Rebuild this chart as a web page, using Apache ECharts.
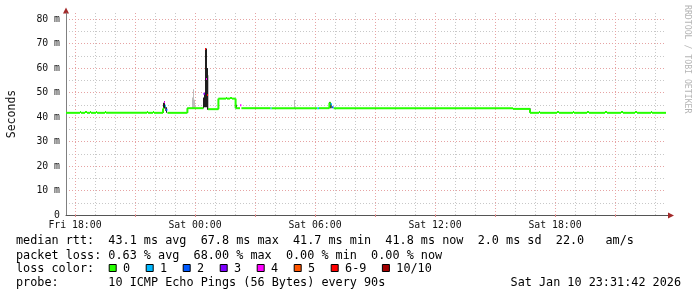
<!DOCTYPE html>
<html><head><meta charset="utf-8">
<script src="https://cdn.jsdelivr.net/npm/echarts@6/dist/echarts.min.js"></script>
<style>html,body{margin:0;padding:0;background:#fff}#c{width:697px;height:297px}</style>
</head><body><div id="c"></div>
<script>
// ---- axis ticks (hours since Fri 00:00) ----
const xMin = 17.55, xMax = 47.55;
const xTickValues = [18, 24, 30, 36, 42];
const xTickLabels = ['Fri 18:00', 'Sat 00:00', 'Sat 06:00', 'Sat 12:00', 'Sat 18:00'];
const xMajorGrid = [18, 21, 24, 27, 30, 33, 36, 39, 42, 45];
const xMinorGrid = [19, 20, 22, 23, 25, 26, 28, 29, 31, 32, 34, 35, 37, 38, 40, 41, 43, 44, 46, 47];
const yTickValues = [0, 10, 20, 30, 40, 50, 60, 70, 80];
const yTickLabels = ['0', '10 m', '20 m', '30 m', '40 m', '50 m', '60 m', '70 m', '80 m'];
const yMinorGrid = [5, 15, 25, 35, 45, 55, 65, 75];

// ---- median rtt (ms): segment start times, values, loss level ----
const medianT = [17.55, 18.25, 18.30, 18.50, 18.60, 18.75, 18.80, 19.05, 19.10, 19.50, 19.55, 21.60, 21.65, 21.90, 21.95,
  22.40, 22.45, 22.50, 22.55, 22.62, 23.62, 24.42, 24.50, 24.55, 24.60, 24.65, 25.17, 25.55, 25.60, 25.75, 25.85,
  26.03, 26.25, 26.32, 27.78, 27.83, 30.12, 30.20, 30.72, 30.78, 30.85, 30.93, 39.90, 40.75,
  41.20, 41.25, 42.10, 42.20, 42.90, 42.95, 43.60, 43.70, 44.50, 44.60, 45.30, 45.40, 46.00, 46.10, 46.80, 46.85, 47.55];
const medianV = [41.7, 42.0, 41.7, 42.0, 41.7, 42.0, 41.7, 42.0, 41.7, 42.0, 41.7, 42.0, 41.7, 42.0, 41.7,
  43.5, 46.0, 44.5, 43.0, 41.7, 43.6, 49.5, 67.8, 55.5, 49.0, 43.2, 47.5, 47.8, 47.5, 47.8, 47.5,
  43.6, 44.8, 43.6, 43.6, 43.6, 43.6, 43.6, 45.8, 45.2, 44.0, 43.6, 43.3, 41.7,
  42.0, 41.7, 42.0, 41.7, 42.0, 41.7, 42.0, 41.7, 42.0, 41.7, 42.0, 41.7, 42.0, 41.7, 42.0, 41.7];
const medianLoss = [0, 0, 0, 0, 0, 0, 0, 0, 0, 0, 0, 0, 0, 0, 0,
  0, 4, 1, 2, 0, 0, 3, 6, 4, 6, 0, 0, 0, 0, 0, 0,
  0, 4, 0, 1, 0, 1, 0, 0, 1, 2, 0, 0, 0,
  0, 0, 0, 0, 0, 0, 0, 0, 0, 0, 0, 0, 0, 0, 0, 0];

// ---- smoke (ping spread) ----
const smokeT  = [22.40, 22.45, 22.50, 22.55, 23.60, 23.85, 23.90, 23.95, 24.40, 24.45, 24.50, 24.55, 24.60, 24.65, 25.15, 26.00, 26.05, 28.95, 30.70, 30.75, 30.80, 40.73];
const smokeLo = [41.7, 43.5, 42.5, 41.7, 41.7, 43.6, 43.6, 43.6, 43.6, 44.0, 44.0, 44.0, 43.0, 43.0, 43.2, 43.6, 43.6, 43.6, 43.6, 43.6, 43.6, 41.7];
const smokeHi = [45.8, 46.5, 45.0, 44.0, 43.8, 48.0, 51.3, 47.0, 48.0, 49.8, 68.0, 68.0, 60.0, 57.0, 47.5, 47.5, 45.0, 46.9, 46.1, 46.0, 45.0, 43.6];
const smokeShade = [0, 0, 1, 0, 0, 2, 2, 2, 0, 0, 0, 0, 0, 2, 0, 0, 0, 2, 0, 0, 1, 0];

// ---- legend / stats text ----
const lossLegend = ['0', '1', '2', '3', '4', '5', '6-9', '10/10'];
const rttLine = 'median rtt:  43.1 ms avg  67.8 ms max  41.7 ms min  41.8 ms now  2.0 ms sd  22.0   am/s';
const lossLine = 'packet loss: 0.63 % avg  68.00 % max  0.00 % min  0.00 % now';
const lossLabel = 'loss color:';
const probeLine = 'probe:       10 ICMP Echo Pings (56 Bytes) every 90s';
const stampText = 'Sat Jan 10 23:31:42 2026';

// ---- styles ----
const lossColors = ['#26ff00', '#00b8ff', '#0059ff', '#7e00ff', '#ff00ff', '#ff5500', '#ff0000', '#a10000'];
const smokeColors = ['#1e1e1e', '#606060', '#bdbdbd'];
const MONO = '"DejaVu Sans Mono", monospace';
const step = 0.05;

const chart = echarts.init(document.getElementById('c'), null, {renderer: 'canvas'});

const medianData = medianV.map((v, i) => [medianT[i], medianT[i + 1], v, medianLoss[i]]);
const smokeData = smokeT.map((t, i) => [t, smokeLo[i], smokeHi[i], smokeShade[i]]);

const txt = (s, x, y, align) => ({
  type: 'text', x: x, y: y, silent: true,
  style: {text: s, font: '11.8px ' + MONO, fill: '#000', align: align || 'left', verticalAlign: 'middle'}
});

const graphics = [];
graphics.push(txt(rttLine, 16, 241));
graphics.push(txt(lossLine, 16, 255.5));
graphics.push(txt(lossLabel, 16, 268.5));
const boxX = [108.7, 145.7, 182.7, 219.7, 256.7, 293.7, 330.7, 381.9];
lossLegend.forEach((s, i) => {
  graphics.push({type: 'rect', silent: true, shape: {x: boxX[i] + 0.5, y: 264.5, width: 7, height: 7},
    style: {fill: lossColors[i], stroke: '#000', lineWidth: 1}});
  graphics.push(txt(s, boxX[i] + 14.4, 268.5));
});
graphics.push(txt(probeLine, 16, 283));
graphics.push(txt(stampText, 681, 283, 'right'));
// watermark
graphics.push({type: 'text', x: 687, y: 5, rotation: -Math.PI / 2, silent: true,
  style: {text: 'RRDTOOL / TOBI OETIKER', font: '8.2px ' + MONO, fill: '#b5b5b5', align: 'left', verticalAlign: 'middle'}});
// axis arrows
graphics.push({type: 'polygon', silent: true, shape: {points: [[63, 13.5], [69, 13.5], [66, 7.5]]}, style: {fill: '#a32a2a'}});
graphics.push({type: 'line', silent: true, shape: {x1: 666, y1: 215.5, x2: 669, y2: 215.5}, style: {stroke: '#555', lineWidth: 1}});
graphics.push({type: 'polygon', silent: true, shape: {points: [[668, 212.5], [668, 218.5], [674, 215.5]]}, style: {fill: '#a32a2a'}});

const option = {
  animation: false,
  backgroundColor: '#fff',
  grid: {left: 66, top: 13, width: 600, height: 202, containLabel: false, outerBoundsMode: 'none'},
  xAxis: [
    {type: 'value', min: xMin, max: xMax, position: 'bottom', gridIndex: 0,
      axisLine: {show: true, onZero: false, lineStyle: {color: '#555', width: 1}},
      axisTick: {show: false, customValues: xMinorGrid},
      splitLine: {show: true, lineStyle: {color: '#c8c8c8', width: 1, type: [1, 2]}},
      axisLabel: {show: true, customValues: xTickValues, formatter: v => xTickLabels[xTickValues.indexOf(v)],
        fontFamily: MONO, fontSize: 9.8, color: '#111', margin: 5}},
    {type: 'value', min: xMin, max: xMax, position: 'bottom', gridIndex: 0,
      axisLine: {show: false},
      axisTick: {show: true, customValues: xMajorGrid, length: 2, lineStyle: {color: '#e08a8a'}},
      splitLine: {show: true, lineStyle: {color: '#e6a3a3', width: 1, type: [1, 2]}},
      axisLabel: {show: false}}
  ],
  yAxis: [
    {type: 'value', min: 0, max: 82.45, position: 'left', gridIndex: 0,
      axisLine: {show: false},
      axisTick: {show: false, customValues: yMinorGrid},
      splitLine: {show: true, lineStyle: {color: '#c8c8c8', width: 1, type: [1, 2]}},
      axisLabel: {show: false}},
    {type: 'value', min: 0, max: 82.45, position: 'left', gridIndex: 0,
      axisLine: {show: true, onZero: false, lineStyle: {color: '#808080', width: 1}},
      axisTick: {show: false, customValues: yTickValues},
      splitLine: {show: true, lineStyle: {color: '#e6a3a3', width: 1, type: [1, 2]}},
      axisLabel: {show: true, customValues: yTickValues, formatter: v => yTickLabels[yTickValues.indexOf(v)],
        fontFamily: MONO, fontSize: 9.8, color: '#111', margin: 6},
      name: 'Seconds', nameLocation: 'middle', nameGap: 48, nameRotate: 90,
      nameTextStyle: {fontFamily: MONO, fontSize: 11.5, color: '#111'}}
  ],
  series: [
    {type: 'custom', name: 'smoke', xAxisIndex: 0, yAxisIndex: 0, clip: true, z: 3,
      data: smokeData, encode: {x: 0, y: [1, 2]},
      renderItem: (params, api) => {
        const t = api.value(0);
        const p0 = api.coord([t, api.value(1)]);
        const p1 = api.coord([t, api.value(2)]);
        const w = Math.max(1, api.size([step, 0])[0]);
        return {type: 'rect', shape: {x: p0[0], y: p1[1], width: w, height: p0[1] - p1[1]},
          style: {fill: smokeColors[api.value(3)]}};
      }},
    {type: 'custom', name: 'median', xAxisIndex: 0, yAxisIndex: 0, clip: true, z: 4,
      data: medianData, encode: {x: [0, 1], y: 2},
      renderItem: (params, api) => {
        const i = params.dataIndex;
        const c = lossColors[medianLoss[i]];
        const a = api.coord([medianT[i], medianV[i]]);
        const b = api.coord([medianT[i + 1], medianV[i]]);
        const kids = [{type: 'line', shape: {x1: a[0], y1: a[1], x2: b[0], y2: b[1]}, style: {stroke: c, lineWidth: 2}}];
        if (i > 0 && medianLoss[i - 1] === medianLoss[i]) {
          const p = api.coord([medianT[i], medianV[i - 1]]);
          kids.push({type: 'line', shape: {x1: p[0], y1: p[1], x2: a[0], y2: a[1]}, style: {stroke: c, lineWidth: 2}});
        }
        return {type: 'group', children: kids};
      }}
  ],
  graphic: graphics
};
chart.setOption(option);
</script></body></html>
